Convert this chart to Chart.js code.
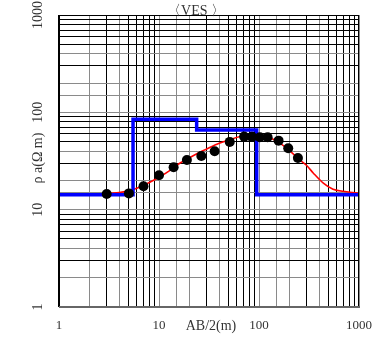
<!DOCTYPE html>
<html>
<head>
<meta charset="utf-8">
<script src="https://cdn.jsdelivr.net/npm/chart.js@4/dist/chart.umd.min.js"></script>
<style>
  html, body { margin: 0; padding: 0; background: #fff; }
</style>
</head>
<body>
<canvas id="myChart" width="374" height="342"></canvas>
<script>
// observed apparent resistivity (dots)
const obsAB = [3, 5, 7, 10, 14, 19, 26.5, 36, 51, 71, 85, 102, 122, 157, 196, 245];
const obsRho = [14.5, 14.7, 17.4, 22.6, 27.3, 32.4, 35.6, 39.8, 49.7, 56.3, 56, 55.5, 55.5, 51.2, 42.8, 34];

// calculated curve (red)
const calcAB = [1, 2, 3, 4, 5, 6, 7, 8, 10, 13, 15, 20, 25, 30, 40, 50, 65, 85, 100, 120, 140, 160, 200, 250, 300, 350, 440, 550, 750, 1000];
const calcRho = [14.2, 14.3, 14.6, 15.0, 15.6, 16.6, 17.8, 19, 21.5, 25.5, 28.5, 34, 38.5, 42, 48, 52, 56.5, 57.5, 57.5, 56, 52.5, 48.5, 41, 33, 28.4, 23.7, 18.7, 16.2, 15.3, 14.7];

// layer model (blue steps)
const layerTop = [1, 5.5, 23.8, 94.8, 1000];
const layerRho = [14.2, 85, 65.9, 14.2, 14.2];

const xTickLabels = [1, 10, 100, 1000];
const yTickLabels = [1, 10, 100, 1000];

const titleText = '〈VES 〉';
const xTitle = 'AB/2(m)';
const yTitle = 'ρ a(Ω m)';

const fontName = "'Liberation Serif', 'DejaVu Serif', serif";
const textColor = '#333';

function toPoints(xs, ys) {
    return xs.map((x, i) => ({ x: x, y: ys[i] }));
}

function gridColor(context) {
    const v = context.tick ? context.tick.value : 1;
    const sig = Math.round(v / Math.pow(10, Math.floor(Math.log10(v) + 1e-9)));
    if (sig === 1 || sig === 2 || sig === 4) return '#8a8a8a';
    return '#000';
}

const textPlugin = {
    id: 'textPlugin',
    afterDraw(chart) {
        const c = chart.ctx;
        const area = chart.chartArea;
        const xs = chart.scales.x;
        const ys = chart.scales.y;

        // frame
        c.save();
        c.strokeStyle = '#000';
        c.lineWidth = 1;
        c.strokeRect(area.left + 0.5, area.top + 0.5, area.right - area.left - 1, area.bottom - area.top - 1);
        c.lineWidth = 2;
        c.beginPath();
        c.moveTo(area.left, area.top);
        c.lineTo(area.left, area.bottom);
        c.stroke();
        c.strokeStyle = '#666';
        c.beginPath();
        c.moveTo(area.left, area.bottom);
        c.lineTo(area.right + 1, area.bottom);
        c.stroke();
        c.restore();

        c.save();
        c.fillStyle = textColor;
        c.font = '14px ' + fontName;
        c.textAlign = 'center';
        c.textBaseline = 'middle';

        // rotated y tick labels
        for (const v of yTickLabels) {
            const y = ys.getPixelForValue(v);
            c.save();
            c.translate(38, y);
            c.rotate(-Math.PI / 2);
            c.fillText(String(v), 0, 0);
            c.restore();
        }

        // y title
        c.save();
        c.translate(38, 158);
        c.rotate(-Math.PI / 2);
        c.fillText(yTitle, 0, 0);
        c.restore();

        // x tick labels
        c.font = '13px ' + fontName;
        for (const v of xTickLabels) {
            c.fillText(String(v), xs.getPixelForValue(v), 326);
        }

        // x title between 10 and 100
        const xm = (xs.getPixelForValue(10) + xs.getPixelForValue(100)) / 2 + 2;
        c.font = '14px ' + fontName;
        c.fillText(xTitle, xm, 326);

        // chart title
        c.textBaseline = 'alphabetic';
        c.font = '14px ' + fontName;
        c.fillText(titleText, 196, 15);
        c.restore();
    }
};

const ctx = document.getElementById('myChart');

const myChart = new Chart(ctx, {
    type: 'line',
    data: {
        datasets: [
            {
                label: 'calc',
                data: toPoints(calcAB, calcRho),
                borderColor: '#ff0000',
                borderWidth: 1.6,
                pointRadius: 0,
                cubicInterpolationMode: 'monotone',
                fill: false,
                order: 3
            },
            {
                label: 'model',
                data: toPoints(layerTop, layerRho),
                borderColor: '#0000ff',
                borderWidth: 3.5,
                pointRadius: 0,
                stepped: true,
                fill: false,
                clip: 4,
                order: 2
            },
            {
                label: 'obs',
                data: toPoints(obsAB, obsRho),
                showLine: false,
                pointRadius: 5,
                pointBackgroundColor: '#000',
                pointBorderColor: '#000',
                pointBorderWidth: 0,
                clip: 6,
                order: 1
            }
        ]
    },
    options: {
        responsive: false,
        animation: false,
        devicePixelRatio: 1,
        layout: {
            autoPadding: false,
            padding: { top: 15, right: 15, left: 0, bottom: 0 }
        },
        plugins: {
            legend: { display: false },
            tooltip: { enabled: false },
            title: { display: false }
        },
        scales: {
            x: {
                type: 'logarithmic',
                min: 1,
                max: 1000,
                border: { display: false },
                grid: {
                    color: gridColor,
                    lineWidth: 1,
                    drawTicks: false
                },
                ticks: { display: false },
                afterFit: function (scale) { scale.height = 35; }
            },
            y: {
                type: 'logarithmic',
                min: 1,
                max: 1000,
                border: { display: false },
                grid: {
                    color: gridColor,
                    lineWidth: 1,
                    drawTicks: false
                },
                ticks: { display: false },
                afterFit: function (scale) { scale.width = 59; }
            }
        }
    },
    plugins: [textPlugin]
});
</script>
</body>
</html>
